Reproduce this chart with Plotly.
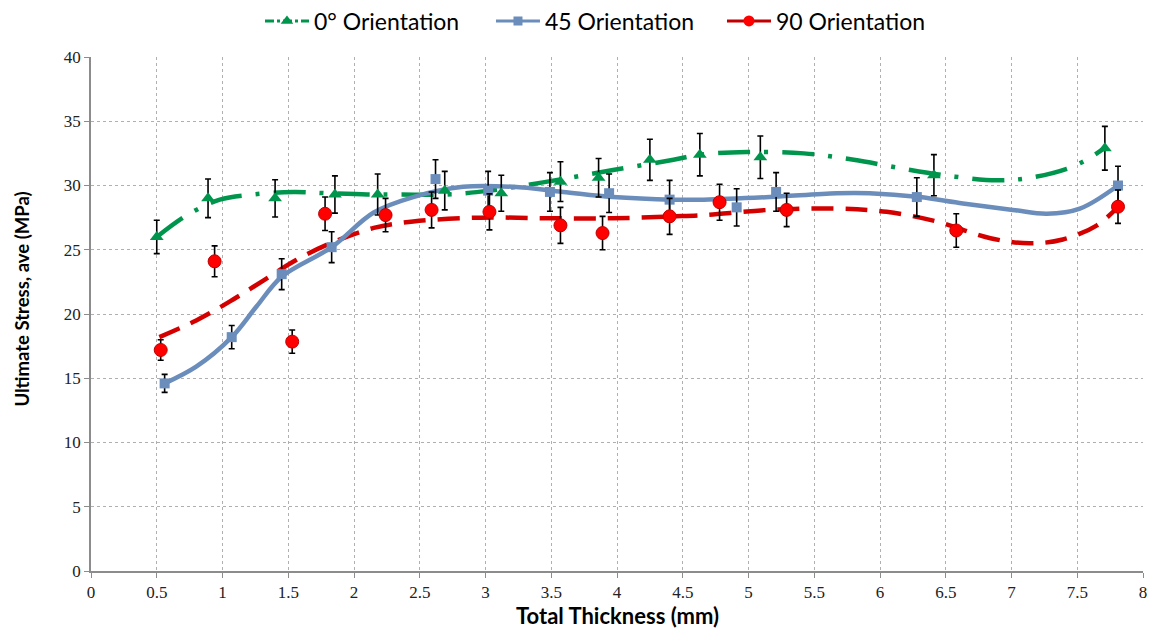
import plotly.graph_objects as go

# ---- data ----
x0 = [0.50, 0.89, 1.40, 1.855, 2.18, 2.69, 3.12, 3.57, 3.86, 4.25, 4.63, 5.09, 6.41, 7.71]
y0 = [26.0, 29.0, 29.0, 29.3, 29.3, 29.6, 29.4, 30.3, 30.6, 32.0, 32.4, 32.2, 30.8, 32.9]
e0 = [1.3, 1.5, 1.45, 1.45, 1.6, 1.5, 1.4, 1.55, 1.5, 1.6, 1.65, 1.65, 1.6, 1.7]

x45 = [0.56, 1.07, 1.45, 1.83, 2.62, 3.02, 3.49, 3.94, 4.40, 4.91, 5.21, 6.28, 7.81]
y45 = [14.6, 18.2, 23.1, 25.2, 30.5, 29.6, 29.5, 29.4, 28.9, 28.3, 29.5, 29.1, 30.0]
e45 = [0.7, 0.9, 1.2, 1.2, 1.5, 1.5, 1.5, 1.5, 1.5, 1.45, 1.5, 1.5, 1.5]

x90 = [0.53, 0.94, 1.53, 1.78, 2.24, 2.59, 3.03, 3.57, 3.89, 4.40, 4.78, 5.29, 6.58, 7.81]
y90 = [17.2, 24.1, 17.85, 27.8, 27.7, 28.1, 27.95, 26.9, 26.3, 27.6, 28.7, 28.1, 26.5, 28.35]
e90 = [0.8, 1.2, 0.9, 1.3, 1.3, 1.4, 1.4, 1.4, 1.3, 1.4, 1.4, 1.3, 1.3, 1.3]

# trend lines
tx0 = [0.50, 0.73, 0.98, 1.23, 1.54, 1.79, 2.10, 2.35, 2.70, 3.03, 3.47, 3.97, 4.43, 4.63,
       4.99, 5.42, 5.80, 6.18, 6.56, 6.89, 7.14, 7.42, 7.57, 7.72]
ty0 = [26.0, 27.7, 28.9, 29.3, 29.5, 29.4, 29.3, 29.3, 29.3, 29.6, 30.3, 31.2, 32.0, 32.4,
       32.6, 32.5, 32.0, 31.3, 30.7, 30.4, 30.6, 31.3, 32.0, 33.0]

tx45 = [0.56, 0.80, 1.07, 1.26, 1.45, 1.83, 2.15, 2.45, 2.83, 3.21, 3.59, 3.97, 4.43, 4.66,
        5.16, 5.67, 5.92, 6.30, 6.63, 7.01, 7.27, 7.52, 7.81]
ty45 = [14.6, 15.9, 18.2, 20.6, 22.9, 25.2, 27.9, 29.1, 29.9, 29.9, 29.5, 29.1, 28.9, 28.9,
        29.1, 29.4, 29.4, 29.1, 28.6, 28.1, 27.8, 28.2, 30.0]

tx90 = [0.52, 0.80, 1.06, 1.31, 1.56, 1.82, 2.15, 2.45, 2.96, 3.47, 3.97, 4.43, 4.66, 5.16,
        5.67, 6.05, 6.43, 6.84, 7.14, 7.39, 7.65, 7.81]
ty90 = [18.2, 19.5, 21.0, 22.6, 24.2, 25.5, 26.7, 27.2, 27.5, 27.45, 27.45, 27.6, 27.7, 28.1,
        28.2, 27.95, 27.2, 25.9, 25.5, 25.8, 26.9, 28.35]

names = ["0\u00b0 Orientation", "45 Orientation", "90 Orientation"]
x_title = "Total Thickness (mm)"
y_title = "Ultimate Stress, ave (MPa)"

GREEN = "#00954C"
BLUE = "#6A8DBB"
RED = "#FF0000"
RED_LINE = "#D40000"

fig = go.Figure()

# trend lines
fig.add_trace(go.Scatter(x=tx0, y=ty0, mode="lines",
                         line=dict(color=GREEN, width=4.5, dash="32px,14px,4px,14px", shape="spline"),
                         showlegend=False, hoverinfo="skip"))
fig.add_trace(go.Scatter(x=tx90, y=ty90, mode="lines",
                         line=dict(color=RED_LINE, width=4.5, dash="22px,12px", shape="spline"),
                         showlegend=False, hoverinfo="skip"))
fig.add_trace(go.Scatter(x=tx45, y=ty45, mode="lines", line=dict(color=BLUE, width=4.5, shape="spline"),
                         showlegend=False, hoverinfo="skip"))

err_style = dict(type="data", visible=True, color="black", thickness=1.6, width=3)

fig.add_trace(go.Scatter(x=x0, y=y0, mode="markers", name=names[0], showlegend=False,
                         marker=dict(symbol="triangle-up", size=12, color=GREEN),
                         error_y=dict(array=e0, **err_style)))
fig.add_trace(go.Scatter(x=x45, y=y45, mode="markers", name=names[1], showlegend=False,
                         marker=dict(symbol="square", size=10, color=BLUE),
                         error_y=dict(array=e45, **err_style)))
fig.add_trace(go.Scatter(x=x90, y=y90, mode="markers", name=names[2], showlegend=False,
                         marker=dict(symbol="circle", size=13, color=RED, line=dict(color="#C00000", width=1)),
                         error_y=dict(array=e90, **err_style)))

# legend entries
fig.add_trace(go.Scatter(x=[None], y=[None], mode="lines+markers", name=names[0],
                         line=dict(color=GREEN, width=3, dash="dashdot"),
                         marker=dict(symbol="triangle-up", size=11, color=GREEN)))
fig.add_trace(go.Scatter(x=[None], y=[None], mode="lines+markers", name=names[1],
                         line=dict(color=BLUE, width=3),
                         marker=dict(symbol="square", size=9, color=BLUE)))
fig.add_trace(go.Scatter(x=[None], y=[None], mode="lines+markers", name=names[2],
                         line=dict(color="#C00000", width=3),
                         marker=dict(symbol="circle", size=11, color=RED)))

tick_font = dict(family="Liberation Serif, Times New Roman, serif", size=17, color="#222222")

fig.update_layout(
    width=1158, height=635,
    paper_bgcolor="white", plot_bgcolor="white",
    margin=dict(l=91, r=15, t=57, b=64),
    legend=dict(orientation="h", x=0.49, xanchor="center", yref="container", y=0.967, yanchor="middle",
                font=dict(family="Lato, Open Sans, sans-serif", size=23, color="black"),
                itemwidth=44, entrywidth=172, entrywidthmode="pixels",
                traceorder="normal", bgcolor="rgba(0,0,0,0)"),
    xaxis=dict(range=[0, 8], dtick=0.5, tick0=0, showgrid=True, gridcolor="#B0B0B0", griddash="dot",
               gridwidth=1, zeroline=False, showline=True, linecolor="#8C8C8C", linewidth=1.5,
               ticks="outside", ticklen=5, tickcolor="#8C8C8C", tickfont=tick_font, automargin=False),
    yaxis=dict(range=[0, 40], dtick=5, showgrid=True, gridcolor="#B0B0B0", griddash="dot",
               gridwidth=1, zeroline=False, showline=True, linecolor="#8C8C8C", linewidth=1.5,
               ticks="outside", ticklen=5, tickcolor="#8C8C8C", tickfont=tick_font, automargin=False),
    annotations=[
        dict(text="<b>" + x_title + "</b>", xref="paper", yref="paper", x=0.5, y=-0.0875,
             xanchor="center", yanchor="middle", showarrow=False,
             font=dict(family="Lato, Open Sans, sans-serif", size=22, color="black")),
        dict(text="<b>" + y_title + "</b>", xref="paper", yref="paper", x=-0.0656, y=0.53,
             xanchor="center", yanchor="middle", showarrow=False, textangle=-90,
             font=dict(family="Lato, Open Sans, sans-serif", size=18.5, color="black")),
    ],
)

fig.write_html("out.html", config={"displayModeBar": False},
               post_script="document.body.style.margin='0';")
